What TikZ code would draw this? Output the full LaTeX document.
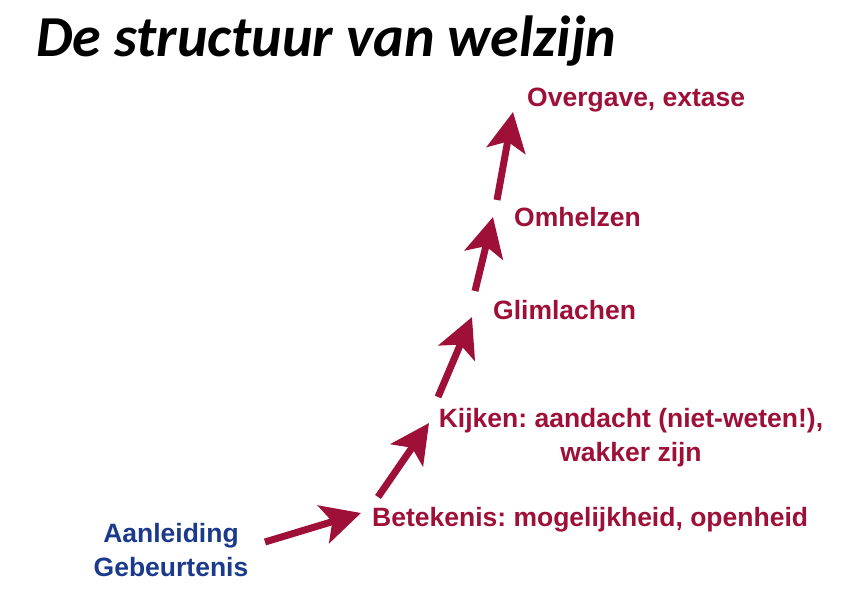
\documentclass[tikz,border=0pt]{standalone}
\usepackage{fontspec}
\setmainfont{Liberation Sans}
\newfontfamily\titlefont{Carlito}
\usetikzlibrary{arrows.meta}
\definecolor{wred}{RGB}{158,16,56}
\definecolor{wblue}{RGB}{28,58,140}
\frenchspacing
\begin{document}
\frenchspacing
\begin{tikzpicture}[x=1pt,y=-1pt,
  lbl/.style={text=wred,font=\frenchspacing\bfseries\fontsize{26.5}{34}\selectfont,inner sep=0pt,anchor=base west},
  arr/.style={draw=wred,line width=7pt,-{Stealth[length=39pt,width=39pt,inset=9pt]}}]
\useasboundingbox (0,0) rectangle (854,604);
\node[font=\titlefont\bfseries\itshape\fontsize{58}{70}\selectfont,inner sep=0pt,anchor=base west] (title) at (36,57) {De structuur van welzijn};
\node[lbl] (over) at (527,107) {Overgave, extase};
\node[lbl] (omh) at (514,227) {Omhelzen};
\node[lbl] (glim) at (493,319) {Glimlachen};
\node[lbl,anchor=base,align=center] (kijk) at (631,461) {Kijken: aandacht (niet-weten!),\\ wakker zijn};
\node[lbl] (bet) at (372,526) {Betekenis: mogelijkheid, openheid};
\node[lbl,text=wblue,anchor=base,align=center] (aan) at (171,576) {Aanleiding\\Gebeurtenis};
\coordinate (t1) at (265,542); \coordinate (h1) at (361,513);
\coordinate (t2) at (378,497); \coordinate (h2) at (429,423);
\coordinate (t3) at (438,397); \coordinate (h3) at (472,317);
\coordinate (t4) at (475,291); \coordinate (h4) at (493,217);
\coordinate (t5) at (497,200); \coordinate (h5) at (513,112);
\draw[arr] (t1) -- (h1);
\draw[arr] (t2) -- (h2);
\draw[arr] (t3) -- (h3);
\draw[arr] (t4) -- (h4);
\draw[arr] (t5) -- (h5);
\end{tikzpicture}
\end{document}
